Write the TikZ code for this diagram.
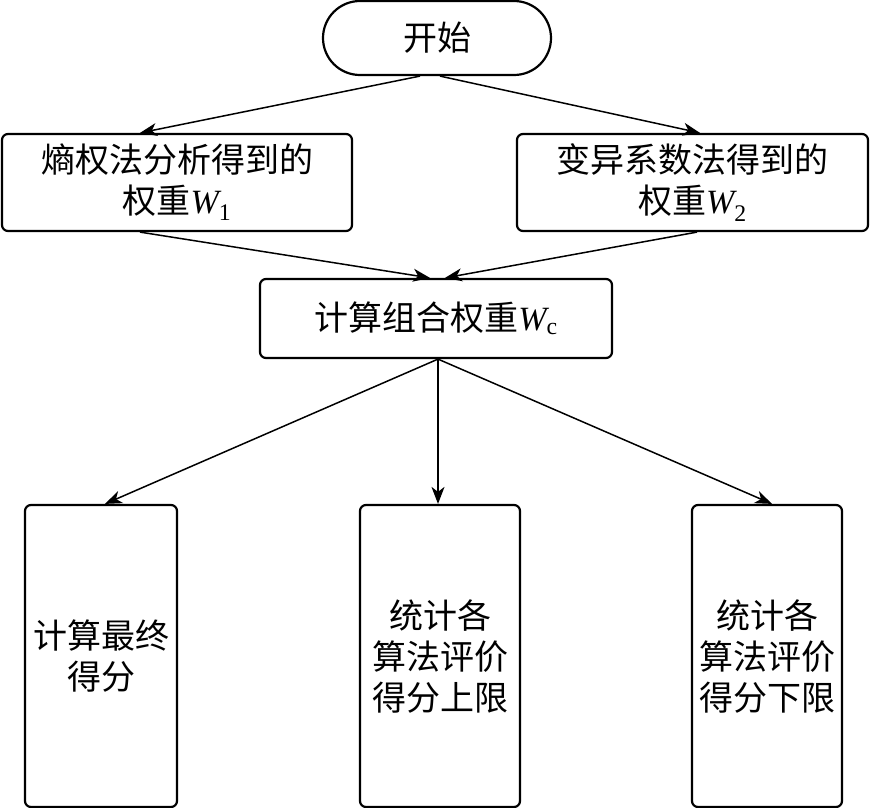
\documentclass[tikz,border=0pt]{standalone}
\usepackage{fontspec}
\setmainfont{Liberation Serif}
\newfontfamily\cjk{Noto Sans CJK SC}
\usepackage{tikz}
\usetikzlibrary{positioning,arrows.meta,shapes.misc}

\newcommand{\wsym}[1]{{\rmfamily\itshape W}\textsubscript{\rmfamily #1}}

\begin{document}
\begin{tikzpicture}[x=1pt, y=-1pt,
  font=\cjk\fontsize{34}{41}\selectfont,
  box/.style={draw, line width=2.2pt, rounded corners=6pt, align=center, inner sep=0pt},
  link/.style={line width=1.5pt, -{Stealth[length=17pt,width=13pt,inset=5pt]}}]
\useasboundingbox (0,0) rectangle (870,808);
% start
\node[draw, line width=2.2pt, rounded rectangle, minimum width=228pt, minimum height=74pt, inner sep=0pt] (start) at (437,38) {开始};
% the two weights
\node[box, minimum width=350pt, minimum height=97pt] (wone) at (177,182.5) {熵权法分析得到的\\权重\wsym{1}};
\node[box, minimum width=351pt, minimum height=97pt] (wtwo) at (692.5,182.5) {变异系数法得到的\\权重\wsym{2}};
% combined weight
\node[box, minimum width=352pt, minimum height=79pt] (wcomb) at (436,318.5) {计算组合权重\wsym{c}};
% results
\node[box, minimum width=152pt, minimum height=302pt] (score) at (101,656) {计算最终\\得分};
\node[box, minimum width=160pt, minimum height=302pt] (upper) at (440,656) {统计各\\算法评价\\得分上限};
\node[box, minimum width=150pt, minimum height=302pt] (lower) at (767,656) {统计各\\算法评价\\得分下限};
% arrows
\draw[link] ([xshift=-17pt]start.south) -- ([xshift=-37pt]wone.north);
\draw[link] ([xshift=3pt]start.south) -- ([xshift=7.5pt]wtwo.north);
\draw[link] ([xshift=-37pt]wone.south) -- ([xshift=-6pt]wcomb.north);
\draw[link] ([xshift=4.5pt]wtwo.south) -- ([xshift=9pt]wcomb.north);
\draw[link] ([xshift=2pt]wcomb.south) -- ([xshift=4pt]score.north);
\draw[link] ([xshift=2pt]wcomb.south) -- ([xshift=-2pt]upper.north);
\draw[link] ([xshift=2pt]wcomb.south) -- ([xshift=5pt]lower.north);
\end{tikzpicture}
\end{document}
